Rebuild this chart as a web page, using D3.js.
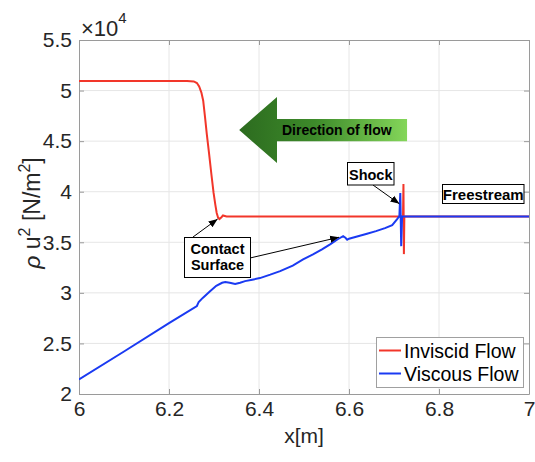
<!DOCTYPE html>
<html>
<head>
<meta charset="utf-8">
<script src="https://cdn.jsdelivr.net/npm/d3@7"></script>
<style>
  body { margin: 0; background: #fff; }
  text { font-family: "Liberation Sans", Arial, Helvetica, sans-serif; }
</style>
</head>
<body>
<script>
// values are in units of 1e4 N/m^2
const xTicks = [6, 6.2, 6.4, 6.6, 6.8, 7];
const xTickLabels = ["6", "6.2", "6.4", "6.6", "6.8", "7"];
const yTicks = [2, 2.5, 3, 3.5, 4, 4.5, 5, 5.5];
const yTickLabels = ["2", "2.5", "3", "3.5", "4", "4.5", "5", "5.5"];

const seriesNames = ["Inviscid Flow", "Viscous Flow"];

const invX = [6.0, 6.2, 6.24, 6.255, 6.262, 6.267, 6.272, 6.276, 6.28, 6.284, 6.289, 6.294, 6.299, 6.303,
  6.306, 6.309, 6.312, 6.316, 6.32, 6.324, 6.328, 6.72, 6.721, 6.722, 6.723, 7.0];
const invY = [5.095, 5.095, 5.095, 5.09, 5.075, 5.04, 4.98, 4.9, 4.74, 4.57, 4.38, 4.18, 3.99, 3.87,
  3.79, 3.745, 3.73, 3.745, 3.765, 3.76, 3.755, 3.755, 4.076, 3.383, 3.755, 3.755];

const visX = [6.0, 6.1, 6.2, 6.262, 6.266, 6.275, 6.29, 6.305, 6.318, 6.325, 6.335, 6.347, 6.358, 6.369,
  6.385, 6.402, 6.425, 6.447, 6.475, 6.498, 6.52, 6.54, 6.558, 6.575, 6.587, 6.592, 6.596, 6.6, 6.62,
  6.64, 6.66, 6.68, 6.696, 6.707, 6.712, 6.714, 6.716, 6.718, 7.0];
const visY = [2.144, 2.42, 2.70, 2.87, 2.91, 2.95, 3.01, 3.07, 3.10, 3.107, 3.10, 3.087, 3.10, 3.116,
  3.13, 3.146, 3.18, 3.215, 3.27, 3.33, 3.38, 3.43, 3.48, 3.53, 3.56, 3.545, 3.525, 3.535, 3.56,
  3.585, 3.61, 3.64, 3.67, 3.73, 3.76, 3.987, 3.462, 3.755, 3.755];

const w = 535, h = 462;
const m = {left: 79, top: 40, right: 6, bottom: 68};
const pw = w - m.left - m.right, ph = h - m.top - m.bottom;

const x = d3.scaleLinear().domain([6, 7]).range([m.left, m.left + pw]);
const y = d3.scaleLinear().domain([2, 5.5]).range([m.top + ph, m.top]);

const svg = d3.select("body").append("svg").attr("width", w).attr("height", h);

const defs = svg.append("defs");
defs.append("clipPath").attr("id", "clip")
  .append("rect").attr("x", m.left).attr("y", m.top).attr("width", pw).attr("height", ph);
const grad = defs.append("linearGradient").attr("id", "flowGrad")
  .attr("x1", "0%").attr("x2", "100%").attr("y1", "0%").attr("y2", "0%");
grad.append("stop").attr("offset", "0%").attr("stop-color", "#2c6b1f");
grad.append("stop").attr("offset", "45%").attr("stop-color", "#3d8a2a");
grad.append("stop").attr("offset", "100%").attr("stop-color", "#84d65a");
defs.append("marker").attr("id", "ah").attr("viewBox", "0 0 10 10")
  .attr("refX", 10).attr("refY", 5).attr("markerWidth", 9).attr("markerHeight", 9)
  .attr("markerUnits", "userSpaceOnUse").attr("orient", "auto")
  .append("path").attr("d", "M0,1 L10,5 L0,9 Z").attr("fill", "#000");

// grid
svg.append("g").selectAll("line").data(xTicks.slice(1, -1)).enter().append("line")
  .attr("x1", d => x(d)).attr("x2", d => x(d)).attr("y1", m.top).attr("y2", m.top + ph)
  .attr("stroke", "#e6e6e6").attr("stroke-width", 1);
svg.append("g").selectAll("line").data(yTicks.slice(1, -1)).enter().append("line")
  .attr("x1", m.left).attr("x2", m.left + pw).attr("y1", d => y(d)).attr("y2", d => y(d))
  .attr("stroke", "#e6e6e6").attr("stroke-width", 1);

// axes
const xAxis = d3.axisBottom(x).tickValues(xTicks).tickFormat((d, i) => xTickLabels[i])
  .tickSizeInner(-5).tickSizeOuter(0).tickPadding(7);
const yAxis = d3.axisLeft(y).tickValues(yTicks).tickFormat((d, i) => yTickLabels[i])
  .tickSizeInner(-5).tickSizeOuter(0).tickPadding(7);
const xAxisTop = d3.axisTop(x).tickValues(xTicks).tickFormat("").tickSizeInner(-5).tickSizeOuter(0);
const yAxisRight = d3.axisRight(y).tickValues(yTicks).tickFormat("").tickSizeInner(-5).tickSizeOuter(0);

const gx = svg.append("g").attr("transform", "translate(0," + (m.top + ph) + ")").call(xAxis);
const gy = svg.append("g").attr("transform", "translate(" + m.left + ",0)").call(yAxis);
const gxt = svg.append("g").attr("transform", "translate(0," + m.top + ")").call(xAxisTop);
const gyr = svg.append("g").attr("transform", "translate(" + (m.left + pw) + ",0)").call(yAxisRight);
[gx, gy, gxt, gyr].forEach(g => {
  g.select(".domain").attr("stroke", "#9a9a9a");
  g.selectAll(".tick line").attr("stroke", "#9a9a9a");
  g.selectAll("text").attr("font-size", 21).attr("fill", "#262626")
    .attr("font-family", "Liberation Sans, Arial, sans-serif");
});

// exponent label
const expo = svg.append("text").attr("x", m.left + 2).attr("y", 36)
  .style("font-size", "22px").attr("fill", "#262626");
expo.append("tspan").text("\u00d710");
expo.append("tspan").attr("dy", -13).style("font-size", "15px").text("4");

// axis labels
svg.append("text").attr("x", x(6.5)).attr("y", 443).attr("text-anchor", "middle")
  .attr("font-size", 21).attr("fill", "#262626").text("x[m]");
const yl = svg.append("text").attr("transform", "translate(40," + 213 + ") rotate(-90)")
  .attr("text-anchor", "middle").attr("font-size", 23).attr("fill", "#262626");
yl.append("tspan").attr("font-style", "italic").text("\u03c1");
yl.append("tspan").text(" u");
yl.append("tspan").attr("dy", -10).attr("font-size", 16).text("2");
yl.append("tspan").attr("dy", 10).text(" [N/m");
yl.append("tspan").attr("dy", -10).attr("font-size", 16).text("2");
yl.append("tspan").attr("dy", 10).text("]");

// curves
const line = d3.line().x(d => x(d[0])).y(d => y(d[1]));
const plot = svg.append("g").attr("clip-path", "url(#clip)");
plot.append("path").datum(d3.zip(invX, invY)).attr("d", line)
  .attr("fill", "none").attr("stroke", "#f2362a").attr("stroke-width", 2);
plot.append("path").datum(d3.zip(visX, visY)).attr("d", line)
  .attr("fill", "none").attr("stroke", "#1a3af2").attr("stroke-width", 2);

// flow direction arrow
const ax0 = x(6.356), ax1 = x(6.44), ax2 = x(6.729);
const ay = y(4.61);
const arrowPts = [[ax0, ay], [ax1, y(4.936)], [ax1, y(4.72)], [ax2, y(4.72)],
  [ax2, y(4.50)], [ax1, y(4.50)], [ax1, y(4.283)]];
svg.append("path").attr("d", "M" + arrowPts.join("L") + "Z").attr("fill", "url(#flowGrad)");
svg.append("text").attr("x", x(6.451)).attr("y", 135).attr("font-size", 14)
  .attr("font-weight", "bold").attr("fill", "#000").text("Direction of flow");

// annotation boxes
function box(x0, y0, x1, y1, lines, base, lh, fs) {
  svg.append("rect").attr("x", x0).attr("y", y0).attr("width", x1 - x0).attr("height", y1 - y0)
    .attr("fill", "#fff").attr("stroke", "#000").attr("stroke-width", 1);
  lines.forEach((t, i) => svg.append("text").attr("x", (x0 + x1) / 2).attr("y", base + i * lh)
    .attr("text-anchor", "middle").attr("font-size", fs).attr("font-weight", "bold").text(t));
}
function pointer(x0, y0, x1, y1) {
  svg.append("line").attr("x1", x0).attr("y1", y0).attr("x2", x1).attr("y2", y1)
    .attr("stroke", "#000").attr("stroke-width", 1).attr("marker-end", "url(#ah)");
}

pointer(373, 185, x(6.712), y(3.88));
box(347.5, 162.5, 394, 185, ["Shock"], 179.5, 0, 14.5);
box(442.5, 184.5, 524, 203.5, ["Freestream"], 200, 0, 15);
pointer(193, 237, x(6.308), y(3.73));
pointer(250, 258, x(6.578), y(3.55));
box(184.5, 237.5, 250.5, 277.5, ["Contact", "Surface"], 254, 16, 14.5);

// legend
const lg = svg.append("g");
lg.append("rect").attr("x", 376.5).attr("y", 337.5).attr("width", 147).attr("height", 50)
  .attr("fill", "#fff").attr("stroke", "#a0a0a0").attr("stroke-width", 1);
const lgColors = ["#f2362a", "#1a3af2"];
seriesNames.forEach((s, i) => {
  const yy = 350.5 + i * 23;
  lg.append("line").attr("x1", 379).attr("x2", 401).attr("y1", yy).attr("y2", yy)
    .attr("stroke", lgColors[i]).attr("stroke-width", 2);
  lg.append("text").attr("x", 404).attr("y", yy + 7).attr("font-size", 19.5)
    .attr("fill", "#000").text(s);
});
</script>
</body>
</html>
